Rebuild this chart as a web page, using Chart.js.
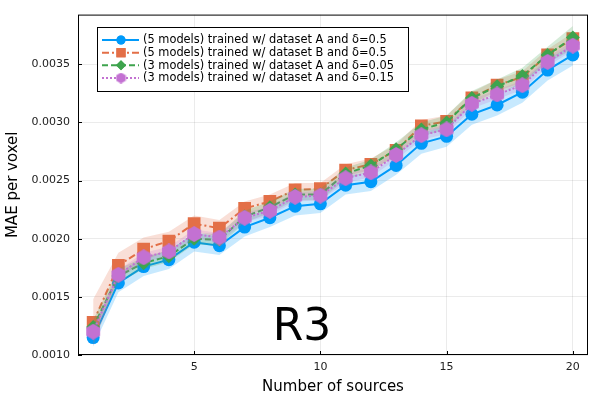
<!DOCTYPE html>
<html>
<head>
<meta charset="utf-8">
<script src="https://cdn.jsdelivr.net/npm/chart.js@4.4.1/dist/chart.umd.min.js"></script>
<style>
html,body{margin:0;padding:0;background:#fff;}
#wrap{width:600px;height:400px;position:relative;}
</style>
</head>
<body>
<div id="wrap"><canvas id="c"></canvas></div>
<script>
const sources = [1,2,3,4,5,6,7,8,9,10,11,12,13,14,15,16,17,18,19,20];
const xTicks = [5,10,15,20];
const yTicks = [0.0010,0.0015,0.0020,0.0025,0.0030,0.0035];

const labels = [
  "(5 models) trained w/ dataset A and δ=0.5",
  "(5 models) trained w/ dataset B and δ=0.5",
  "(3 models) trained w/ dataset A and δ=0.05",
  "(3 models) trained w/ dataset A and δ=0.15"
];

const maeA05  = [0.00115,0.00162,0.00176,0.00182,0.00197,0.00194,0.00210,0.00218,0.00228,0.00230,0.00246,0.00249,0.00263,0.00282,0.00288,0.00307,0.00315,0.00326,0.00345,0.00358];
const maeB05  = [0.00128,0.00177,0.00191,0.00198,0.00213,0.00209,0.00226,0.00232,0.00242,0.00243,0.00259,0.00264,0.00276,0.00297,0.00301,0.00321,0.00332,0.00339,0.00358,0.00372];
const maeA005 = [0.00124,0.00168,0.00179,0.00185,0.00200,0.00199,0.00219,0.00227,0.00238,0.00238,0.00256,0.00263,0.00277,0.00294,0.00300,0.00321,0.00331,0.00340,0.00358,0.00373];
const maeA015 = [0.00120,0.00169,0.00184,0.00189,0.00204,0.00201,0.00218,0.00224,0.00236,0.00237,0.00252,0.00257,0.00272,0.00289,0.00294,0.00316,0.00324,0.00332,0.00352,0.00366];

const errA05  = [0.00008,0.00008,0.00008,0.00008,0.00008,0.00008,0.00008,0.00008,0.00008,0.00008,0.00008,0.00008,0.00008,0.00009,0.00009,0.00009,0.00009,0.00009,0.00009,0.00009];
const errB05  = [0.00020,0.00011,0.00010,0.00008,0.00007,0.00007,0.00006,0.00006,0.00006,0.00005,0.00005,0.00005,0.00005,0.00005,0.00005,0.00005,0.00005,0.00005,0.00005,0.00005];
const errA005 = [0.00006,0.00006,0.00005,0.00005,0.00005,0.00005,0.00005,0.00005,0.00005,0.00005,0.00005,0.00005,0.00006,0.00006,0.00006,0.00006,0.00006,0.00007,0.00007,0.00010];
const errA015 = [0.00004,0.00004,0.00004,0.00004,0.00004,0.00004,0.00004,0.00004,0.00004,0.00004,0.00004,0.00004,0.00004,0.00004,0.00004,0.00004,0.00004,0.00004,0.00004,0.00004];

const colors = ['#009AFA','#E36F47','#3EA44E','#C371D2'];
const bandColors = ['rgba(0,154,250,0.22)','rgba(227,111,71,0.22)','rgba(62,164,78,0.22)','rgba(195,113,210,0.22)'];
const dashes = [[], [7,3,2,3], [6,3], [2,2]];

function hexImg(size, color){
  const cv = document.createElement('canvas');
  cv.width = size; cv.height = size;
  const g = cv.getContext('2d');
  const r = size/2, cx = size/2, cy = size/2;
  g.beginPath();
  for (let i=0;i<6;i++){
    const a = Math.PI/2 + i*Math.PI/3;
    const px = cx + r*Math.cos(a), py = cy - r*Math.sin(a);
    if(i===0) g.moveTo(px,py); else g.lineTo(px,py);
  }
  g.closePath();
  g.fillStyle = color; g.fill();
  return cv;
}
const hexBig = hexImg(16, colors[3]);
const hexSmall = hexImg(11, colors[3]);

const pointStyles = ['circle','rect','rectRot',hexBig];
const pointRadii = [6.5, 9, 7, 8];
const legendStyles = ['circle','rect','rectRot',hexSmall];
const legendRadii = [4.5, 6.5, 5, 5.5];

const series = [maeA05, maeB05, maeA005, maeA015];
const errs = [errA05, errB05, errA005, errA015];

const datasets = [];
series.forEach((s,k)=>{
  datasets.push({label:'_u'+k, data: sources.map((x,i)=>({x, y: s[i]+errs[k][i]})), borderWidth:0, pointRadius:0, fill:'+1', backgroundColor:bandColors[k], borderColor:'transparent'});
  datasets.push({label:'_l'+k, data: sources.map((x,i)=>({x, y: s[i]-errs[k][i]})), borderWidth:0, pointRadius:0, fill:false, borderColor:'transparent'});
  datasets.push({label:labels[k], data: sources.map((x,i)=>({x, y: s[i]})), borderColor:colors[k], backgroundColor:colors[k], borderWidth:2, borderDash:dashes[k], pointStyle:pointStyles[k], pointRadius:pointRadii[k], pointBorderWidth:0, pointBackgroundColor:colors[k], fill:false, tension:0});
});
datasets.forEach((d,i)=>{ d.order = datasets.length - i; });

const FONT = '"DejaVu Sans", sans-serif';

const overlay = {
  id:'overlay',
  afterDraw(chart){
    const ctx = chart.ctx;
    const a = chart.chartArea;
    ctx.save();
    ctx.strokeStyle = '#000'; ctx.lineWidth = 1;
    ctx.strokeRect(a.left+0.5, a.top+0.5, a.right-a.left-1, a.bottom-a.top-1);
    const xs = chart.scales.x, ys = chart.scales.y;
    ctx.beginPath();
    xTicks.forEach(v=>{const px=Math.round(xs.getPixelForValue(v))+0.5; ctx.moveTo(px,a.bottom); ctx.lineTo(px,a.bottom-4);});
    yTicks.forEach(v=>{const py=Math.round(ys.getPixelForValue(v))+0.5; ctx.moveTo(a.left,py); ctx.lineTo(a.left+4,py);});
    ctx.stroke();
    ctx.fillStyle = '#000';
    ctx.font = '44px ' + FONT;
    ctx.textAlign = 'center'; ctx.textBaseline = 'alphabetic';
    ctx.fillText('R3', 302, 340);
    const lx = 97.5, ly = 27.5, lw = 311, lh = 64;
    ctx.fillStyle = '#fff';
    ctx.fillRect(lx, ly, lw, lh);
    ctx.strokeStyle = '#000'; ctx.lineWidth = 1;
    ctx.strokeRect(lx, ly, lw, lh);
    const rows = [40, 52.7, 65.3, 78];
    ctx.font = '11.4px ' + FONT;
    ctx.textAlign = 'left'; ctx.textBaseline = 'middle';
    rows.forEach((ry,k)=>{
      ctx.save();
      ctx.strokeStyle = colors[k]; ctx.lineWidth = 2; ctx.setLineDash(dashes[k]);
      ctx.beginPath(); ctx.moveTo(102, ry); ctx.lineTo(139, ry); ctx.stroke();
      ctx.restore();
      ctx.fillStyle = colors[k];
      Chart.helpers.drawPoint(ctx, {pointStyle: legendStyles[k], radius: legendRadii[k], rotation:0, borderWidth:0}, 121, ry);
      ctx.fill();
      ctx.fillStyle = '#000';
      ctx.fillText(labels[k], 143, ry+0.5);
    });
    ctx.restore();
  }
};

new Chart(document.getElementById('c'), {
  type:'line',
  data:{datasets},
  options:{
    responsive:true, maintainAspectRatio:false, animation:false,
    layout:{padding:{top:10,right:12,left:0,bottom:0}},
    plugins:{legend:{display:false}, tooltip:{enabled:false}},
    scales:{
      x:{type:'linear', min:0.4, max:20.6,
        afterBuildTicks(ax){ ax.ticks = xTicks.map(v=>({value:v})); },
        afterFit(ax){ ax.height = 45; },
        grid:{color:'rgba(0,0,0,0.08)', drawTicks:false},
        border:{display:false},
        ticks:{font:{family:FONT,size:11}, color:'#222', padding:6, maxRotation:0, callback:v=>String(v)},
        title:{display:true, text:'Number of sources', font:{family:FONT,size:15}, color:'#000', padding:{top:2,bottom:4}}
      },
      y:{type:'linear', min:0.0010, max:0.003927,
        afterBuildTicks(ax){ ax.ticks = yTicks.map(v=>({value:v})); },
        afterFit(ax){ ax.width = 78; },
        grid:{color:'rgba(0,0,0,0.08)', drawTicks:false},
        border:{display:false},
        ticks:{font:{family:FONT,size:11}, color:'#222', padding:8, callback:v=>v.toFixed(4)},
        title:{display:true, text:'MAE per voxel', font:{family:FONT,size:15}, color:'#000', padding:{top:4,bottom:2}}
      }
    }
  },
  plugins:[overlay]
});
</script>
</body>
</html>
